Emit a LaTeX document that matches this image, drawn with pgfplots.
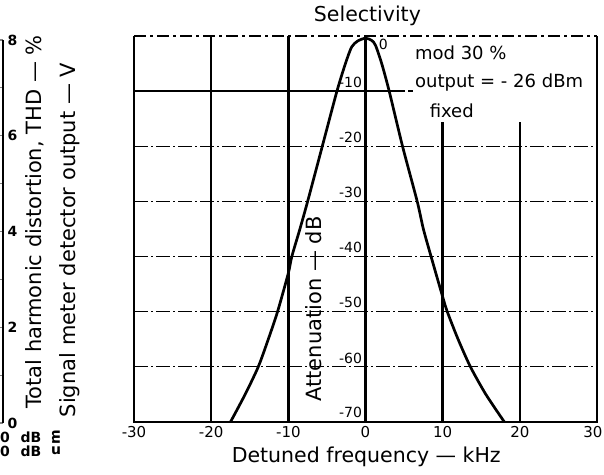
\documentclass[border=0pt]{standalone}
\usepackage{pgfplots}
\pgfplotsset{compat=1.18}
\usepackage{fontspec}
\setmainfont{DejaVu Sans}
\begin{document}
\begin{tikzpicture}[x=1pt,y=1pt]
\path[use as bounding box] (0,0) rectangle (604,474);
% ---- main chart ----
\begin{axis}[
  at={(134pt,52pt)}, anchor=south west,
  scale only axis, width=463pt, height=386pt,
  xmin=-30, xmax=30, ymin=-70, ymax=0,
  axis line style={draw=none},
  major tick length=0pt,
  /pgf/number format/assume math mode=true,
  xtick={-30,-20,-10,0,10,20},
  xticklabels={-30,-20,-10,0,10,20},
  extra x ticks={30}, extra x tick labels={30},
  extra x tick style={xticklabel style={xshift=-4pt}},
  ytick=\empty,
  xticklabel style={font=\fontsize{15}{17}\selectfont, yshift=-1pt},
  title={Selectivity},
  title style={at={(axis cs:0.25,0)}, anchor=center, yshift=14pt, font=\fontsize{20.5}{24}\selectfont},
  xlabel={Detuned frequency — kHz},
  xlabel style={at={(axis cs:0.1,-70)}, anchor=center, yshift=-35pt, font=\fontsize{20.5}{24}\selectfont},
  ylabel={Attenuation — dB},
  ylabel style={at={(axis cs:-6.7,-49.5)}, anchor=center, rotate=0, font=\fontsize{21}{24}\selectfont},
  clip=false,
]
% horizontal grid lines (dash-dot)
\draw[line width=1.2pt, dash pattern=on 14pt off 3pt on 2pt off 3pt] (axis cs:-30,-20) -- (axis cs:30,-20);
\draw[line width=1.2pt, dash pattern=on 14pt off 3pt on 2pt off 3pt] (axis cs:-30,-30) -- (axis cs:30,-30);
\draw[line width=1.2pt, dash pattern=on 14pt off 3pt on 2pt off 3pt] (axis cs:-30,-40) -- (axis cs:30,-40);
\draw[line width=1.2pt, dash pattern=on 14pt off 3pt on 2pt off 3pt] (axis cs:-30,-50) -- (axis cs:30,-50);
\draw[line width=1.2pt, dash pattern=on 14pt off 3pt on 2pt off 3pt] (axis cs:-30,-60) -- (axis cs:30,-60);
\draw[line width=1.3pt] (axis cs:-30,-10) -- (axis cs:4.5,-10);
\draw[line width=1.3pt, dash pattern=on 5pt off 3pt] (axis cs:4.5,-10) -- (axis cs:6.2,-10);
% vertical grid lines
\draw[line width=2.5pt] (axis cs:-20,0) -- (axis cs:-20,-70);
\draw[line width=2.5pt] (axis cs:-10,0) -- (axis cs:-10,-70);
\draw[line width=2.5pt] (axis cs:0,0) -- (axis cs:0,-70);
\draw[line width=2.5pt] (axis cs:10,-15.6) -- (axis cs:10,-70);
\draw[line width=2.5pt] (axis cs:20,-15.6) -- (axis cs:20,-70);
% frame
\draw[line width=1.3pt, dash pattern=on 12pt off 4pt on 3pt off 4pt] (axis cs:-30,0) -- (axis cs:30,0);
\draw[line width=2.6pt] (axis cs:-30,0) -- (axis cs:-30,-70) -- (axis cs:30,-70) -- (axis cs:30,0);
% y tick labels inside
\node[anchor=center, font=\fontsize{14}{16}\selectfont] at (axis cs:2.3,-1.6) {0};
\node[anchor=east, font=\fontsize{14}{16}\selectfont, inner sep=1pt] at (axis cs:-0.3,-8.4) {-10};
\node[anchor=east, font=\fontsize{14}{16}\selectfont, inner sep=1pt] at (axis cs:-0.3,-18.4) {-20};
\node[anchor=east, font=\fontsize{14}{16}\selectfont, inner sep=1pt] at (axis cs:-0.3,-28.4) {-30};
\node[anchor=east, font=\fontsize{14}{16}\selectfont, inner sep=1pt] at (axis cs:-0.3,-38.4) {-40};
\node[anchor=east, font=\fontsize{14}{16}\selectfont, inner sep=1pt] at (axis cs:-0.3,-48.4) {-50};
\node[anchor=east, font=\fontsize{14}{16}\selectfont, inner sep=1pt] at (axis cs:-0.3,-58.4) {-60};
\node[anchor=east, font=\fontsize{14}{16}\selectfont, inner sep=1pt] at (axis cs:-0.3,-68.2) {-70};
% annotations
\node[anchor=west, font=\fontsize{18}{20}\selectfont, inner sep=0pt] at (axis cs:6.4,-3.1) {mod 30 \%};
\node[anchor=west, font=\fontsize{18}{20}\selectfont, inner sep=0pt] at (axis cs:6.4,-8.4) {output = - 26 dBm};
\node[anchor=west, font=\fontsize{18}{20}\selectfont, inner sep=0pt] at (axis cs:8.3,-13.5) {fixed};
% selectivity curve
\addplot[line width=2.7pt, smooth, tension=0.45] coordinates {
(-17.5,-70) (-15.6,-65) (-13.9,-60) (-12.6,-55) (-11.4,-50) (-10.0,-43)
(-9.55,-40) (-8.5,-35) (-7.5,-30) (-5.6,-20) (-3.7,-10) (-2.6,-5)
(-1.8,-2.0) (-1.0,-0.9) (0,-0.4) (0.8,-0.8) (1.3,-1.7) (2.1,-5)
(3.07,-10) (4.8,-20) (6.7,-30) (7.5,-35) (8.5,-40) (10.0,-47.3)
(10.6,-50) (12.0,-55) (13.6,-60) (15.6,-65) (18.0,-70)
};
\end{axis}
% ---- fragment of neighbouring chart on the left ----
\begin{axis}[
  at={(2pt,51pt)}, anchor=south west,
  scale only axis, width=1pt, height=383pt,
  xmin=0, xmax=1, ymin=0, ymax=8,
  axis x line=none, axis y line*=right,
  axis line style={line width=2pt},
  /pgf/number format/assume math mode=true,
  ytick={0,2,4,6,8}, yticklabels={0,2,4,6,8},
  minor ytick={1,3,5,7},
  tick align=inside, major tick length=5pt, minor tick length=4pt,
  tick style={line width=1.2pt},
  yticklabel style={font=\fontsize{14}{16}\selectfont\bfseries, xshift=1pt},
]
\addplot[draw=none] coordinates {(0,0) (1,8)};
\end{axis}
\node[rotate=90, font=\fontsize{21}{24}\selectfont] at (35,252) {Total harmonic distortion, THD — \%};
\node[rotate=90, font=\fontsize{21}{24}\selectfont] at (70,234) {Signal meter detector output — V};
\node[font=\fontsize{14}{16}\selectfont\bfseries] at (5,37) {0};
\node[font=\fontsize{14}{16}\selectfont\bfseries] at (5,23) {0};
\node[font=\fontsize{14}{16}\selectfont\bfseries] at (31,37) {dB};
\node[font=\fontsize{14}{16}\selectfont\bfseries] at (31,23) {dB};
\node[rotate=90, font=\fontsize{14}{16}\selectfont\bfseries] at (56,37) {m};
\node[font=\fontsize{14}{16}\selectfont\bfseries] at (56,23) {u};
\end{tikzpicture}
\end{document}
